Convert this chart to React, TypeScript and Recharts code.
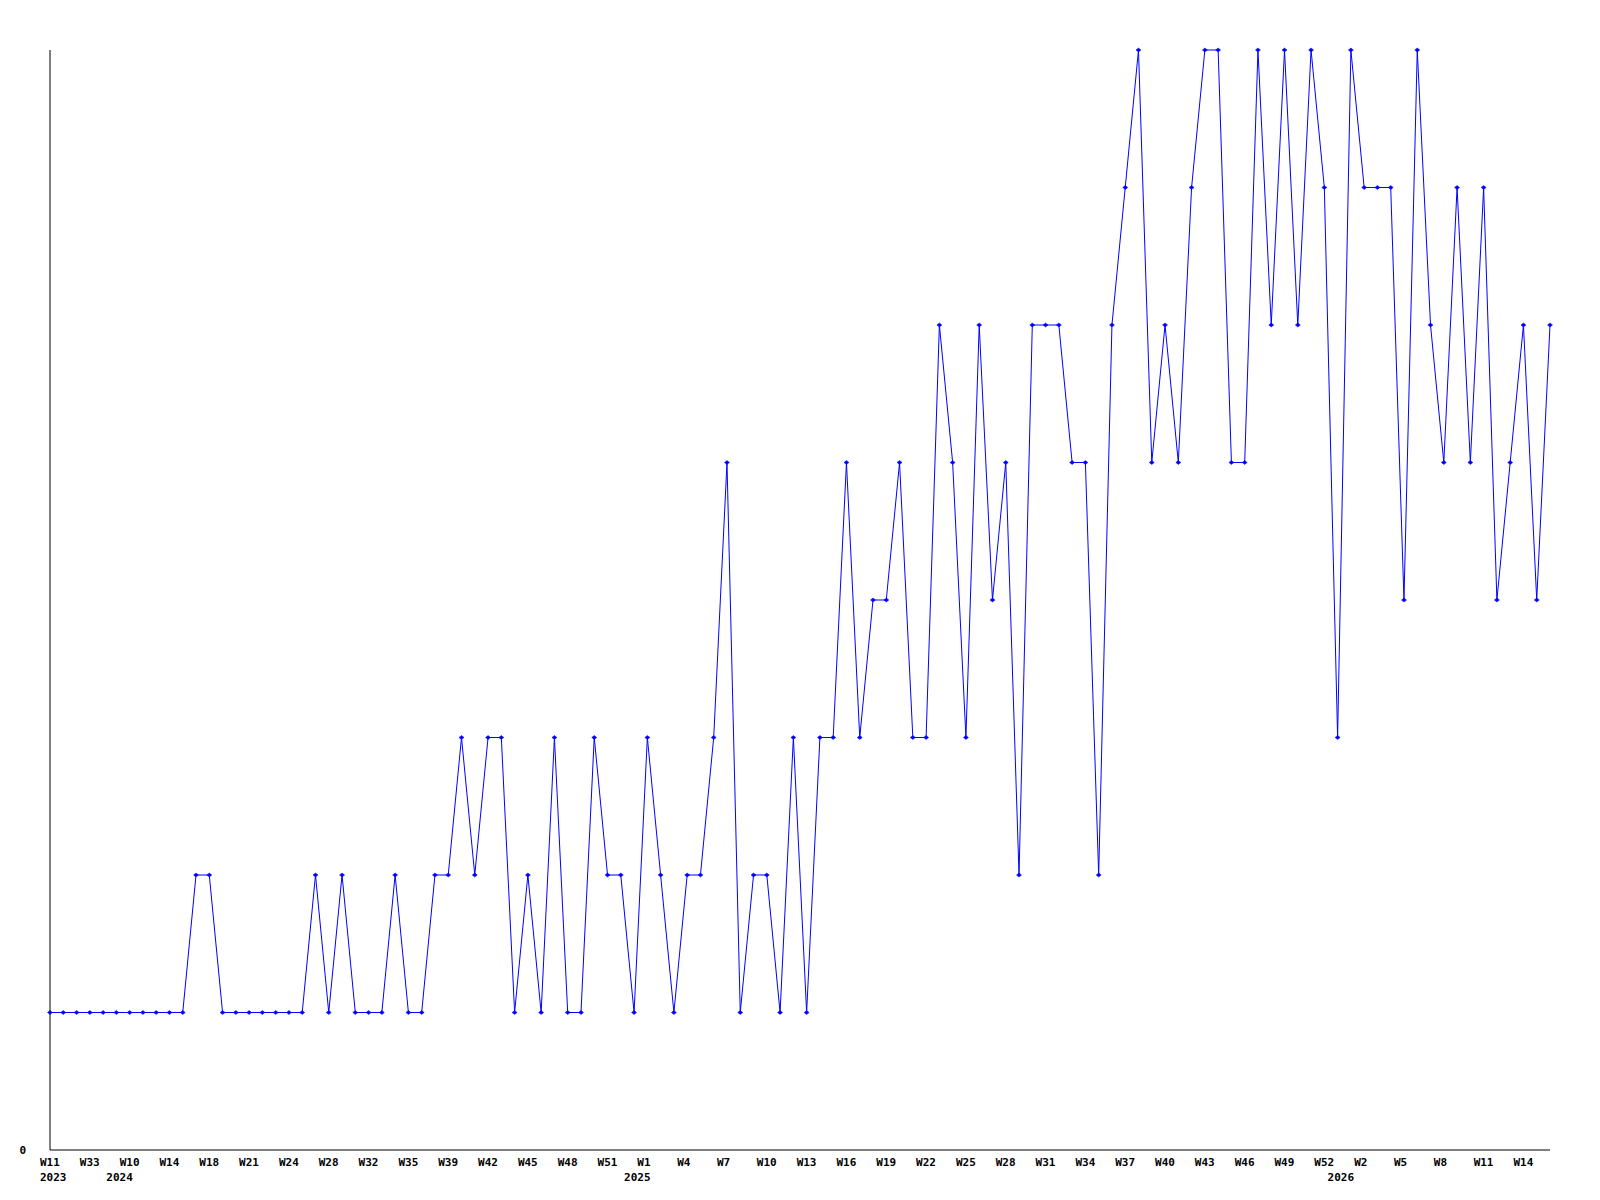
import React from 'react';
import { LineChart, Line, XAxis, YAxis } from 'recharts';

// one entry per plotted week (weeks with data only, so gaps exist early on)
const weeks = [
  'W11', 'W17', 'W25', 'W33', 'W45',
  'W5', 'W10', 'W11', 'W12', 'W14', 'W15', 'W16', 'W18', 'W19', 'W20', 'W21', 'W22', 'W23',
  'W24', 'W25', 'W26', 'W28', 'W29', 'W30', 'W32', 'W33', 'W34', 'W35', 'W36', 'W37',
  'W39', 'W40', 'W41', 'W42', 'W43', 'W44', 'W45', 'W46', 'W47', 'W48', 'W49', 'W50',
  'W51', 'W52',
  'W0', 'W1', 'W2', 'W3', 'W4', 'W5', 'W6', 'W7', 'W8', 'W9', 'W10', 'W11', 'W12', 'W13',
  'W14', 'W15', 'W16', 'W17', 'W18', 'W19', 'W20', 'W21', 'W22', 'W23', 'W24', 'W25',
  'W26', 'W27', 'W28', 'W29', 'W30', 'W31', 'W32', 'W33', 'W34', 'W35', 'W36', 'W37',
  'W38', 'W39', 'W40', 'W41', 'W42', 'W43', 'W44', 'W45', 'W46', 'W47', 'W48', 'W49',
  'W50', 'W51', 'W52',
  'W0', 'W1', 'W2', 'W3', 'W4', 'W5', 'W6', 'W7', 'W8', 'W9', 'W10', 'W11', 'W12', 'W13',
  'W14', 'W15', 'W16',
];

const years = [
  2023, 2023, 2023, 2023, 2023,
  2024, 2024, 2024, 2024, 2024, 2024, 2024, 2024, 2024, 2024, 2024, 2024, 2024,
  2024, 2024, 2024, 2024, 2024, 2024, 2024, 2024, 2024, 2024, 2024, 2024,
  2024, 2024, 2024, 2024, 2024, 2024, 2024, 2024, 2024, 2024, 2024, 2024,
  2024, 2024,
  2025, 2025, 2025, 2025, 2025, 2025, 2025, 2025, 2025, 2025, 2025, 2025, 2025, 2025,
  2025, 2025, 2025, 2025, 2025, 2025, 2025, 2025, 2025, 2025, 2025, 2025,
  2025, 2025, 2025, 2025, 2025, 2025, 2025, 2025, 2025, 2025, 2025, 2025,
  2025, 2025, 2025, 2025, 2025, 2025, 2025, 2025, 2025, 2025, 2025, 2025,
  2025, 2025, 2025,
  2026, 2026, 2026, 2026, 2026, 2026, 2026, 2026, 2026, 2026, 2026, 2026, 2026, 2026,
  2026, 2026, 2026,
];

const counts = [
  1, 1, 1, 1, 1,
  1, 1, 1, 1, 1, 1, 2, 2, 1, 1, 1, 1, 1,
  1, 1, 2, 1, 2, 1, 1, 1, 2, 1, 1, 2,
  2, 3, 2, 3, 3, 1, 2, 1, 3, 1, 1, 3,
  2, 2,
  1, 3, 2, 1, 2, 2, 3, 5, 1, 2, 2, 1, 3, 1,
  3, 3, 5, 3, 4, 4, 5, 3, 3, 6, 5, 3,
  6, 4, 5, 2, 6, 6, 6, 5, 5, 2, 6, 7,
  8, 5, 6, 5, 7, 8, 8, 5, 5, 8, 6, 8,
  6, 8, 7,
  3, 8, 7, 7, 7, 4, 8, 6, 5, 7, 5, 7, 4, 5,
  6, 4, 6,
];

const yTicks = [0];

const data = weeks.map((w, i) => ({ key: `${years[i]}-${w}`, count: counts[i] }));
const indexByKey = new Map(data.map((d, i) => [d.key, i]));

const FONT = '"DejaVu Sans Mono", monospace';
const BLUE = '#0000ff';

// every category gets a tick; the week name is drawn on every third one,
// the year under the first week of each year
const WeekTick = ({ x, y, payload }: any) => {
  const i = indexByKey.get(payload.value) ?? 0;
  const showWeek = i % 3 === 0;
  const showYear = i === 0 || years[i] !== years[i - 1];
  if (!showWeek && !showYear) return <g />;
  return (
    <g>
      {showWeek && (
        <text x={x - 10} y={y + 16} textAnchor="start" fontFamily={FONT} fontWeight="bold" fontSize={11} fill="#000">
          {weeks[i]}
        </text>
      )}
      {showYear && (
        <text x={x - 10} y={y + 31} textAnchor="start" fontFamily={FONT} fontWeight="bold" fontSize={11} fill="#000">
          {years[i]}
        </text>
      )}
    </g>
  );
};

const CountTick = ({ x, y, payload }: any) => (
  <text x={x - 24} y={y + 4} textAnchor="end" fontFamily={FONT} fontWeight="bold" fontSize={11} fill="#000">
    {payload.value}
  </text>
);

const renderDot = (props: any) => {
  const { cx, cy, index } = props;
  return (
    <path
      key={`dot-${index}`}
      d={`M${cx - 2.5},${cy} L${cx},${cy - 2} L${cx + 2.5},${cy} L${cx},${cy + 2} Z`}
      fill={BLUE}
      stroke={BLUE}
      strokeWidth={0.5}
    />
  );
};

export default function App() {
  return (
    <div style={{ position: 'absolute', left: 0, top: 0, width: 1600, height: 1200, background: '#fff' }}>
      <LineChart width={1600} height={1200} data={data} margin={{ top: 50, right: 50, bottom: 0, left: 0 }}>
        <XAxis
          dataKey="key"
          height={50}
          interval={0}
          tickLine={false}
          tickSize={0}
          tickMargin={0}
          axisLine={{ stroke: '#000', strokeWidth: 1 }}
          tick={<WeekTick />}
        />
        <YAxis
          width={50}
          domain={[0, 8]}
          ticks={yTicks}
          tickLine={false}
          tickSize={0}
          tickMargin={0}
          axisLine={{ stroke: '#000', strokeWidth: 1 }}
          tick={<CountTick />}
        />
        <Line
          type="linear"
          dataKey="count"
          stroke={BLUE}
          strokeWidth={1}
          dot={renderDot}
          activeDot={false}
          isAnimationActive={false}
        />
      </LineChart>
    </div>
  );
}
